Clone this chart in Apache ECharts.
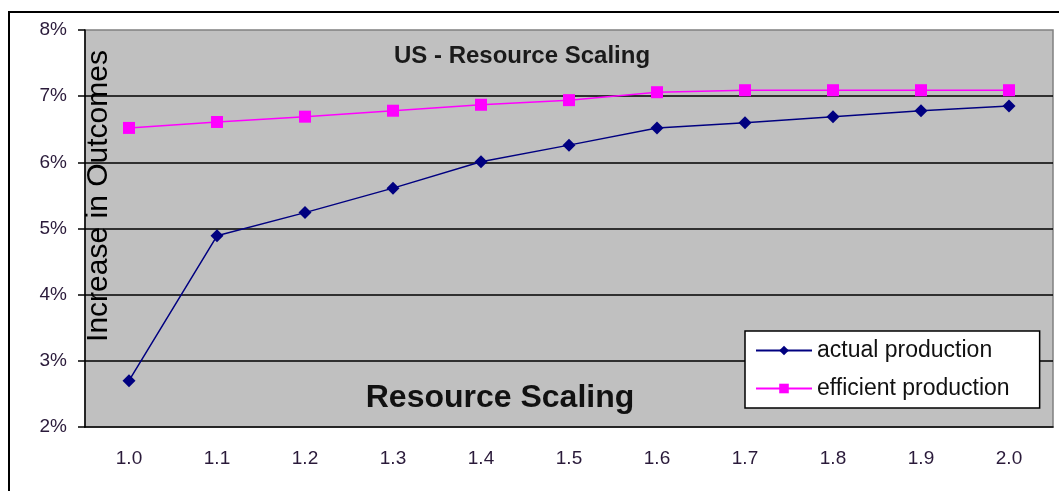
<!DOCTYPE html>
<html>
<head>
<meta charset="utf-8">
<script src="https://cdn.jsdelivr.net/npm/echarts@6/dist/echarts.min.js"></script>
<style>
  html, body { margin: 0; padding: 0; background: #fff; }
  #chart { width: 1059px; height: 491px; }
</style>
</head>
<body>
<div id="chart"></div>
<script>
// data
var scaling = ['1.0', '1.1', '1.2', '1.3', '1.4', '1.5', '1.6', '1.7', '1.8', '1.9', '2.0'];
var actualProduction = [2.70, 4.89, 5.24, 5.61, 6.01, 6.26, 6.52, 6.60, 6.69, 6.78, 6.85];
var efficientProduction = [6.52, 6.61, 6.69, 6.78, 6.87, 6.94, 7.06, 7.09, 7.09, 7.09, 7.09];
var yTicks = { min: 2, max: 8, step: 1 };

var chart = echarts.init(document.getElementById('chart'));
var font = 'Liberation Sans, Arial, sans-serif';

var option = {
    backgroundColor: '#fff',
    animation: false,
    title: [
        {
            text: 'US - Resource Scaling',
            left: 517, top: 39, textAlign: 'center',
            textStyle: { fontFamily: font, fontSize: 24, fontWeight: 'bold', color: '#1a1a1a' }
        },
        {
            text: 'Resource Scaling',
            left: 495, top: 377, textAlign: 'center',
            textStyle: { fontFamily: font, fontSize: 32, fontWeight: 'bold', color: '#111' }
        }
    ],
    graphic: [
        {
            type: 'rect',
            shape: { x: 9, y: 12, width: 1100, height: 600 },
            style: { fill: 'none', stroke: '#000', lineWidth: 2 },
            silent: true
        },
        {
            type: 'text',
            x: 99, y: 196, rotation: Math.PI / 2, z: 10,
            style: {
                text: 'Increase in Outcomes',
                fontFamily: font, fontSize: 30, fill: '#000',
                align: 'center', verticalAlign: 'middle'
            }
        }
    ],
    legend: {
        left: 745, top: 331,
        orient: 'vertical',
        backgroundColor: '#fff',
        borderColor: '#000',
        borderWidth: 1.5,
        padding: [8, 30, 8, 10],
        itemGap: 15,
        itemWidth: 56,
        itemHeight: 12,
        textStyle: { fontFamily: font, fontSize: 23, color: '#111' },
        data: ['actual production', 'efficient production']
    },
    grid: {
        left: 85, right: 6, top: 30, bottom: 64,
        show: true,
        backgroundColor: '#c0c0c0',
        borderColor: '#808080',
        borderWidth: 1.5
    },
    xAxis: {
        type: 'category',
        data: scaling,
        boundaryGap: true,
        axisLine: { lineStyle: { color: '#000', width: 1.5 } },
        axisTick: { length: 6, lineStyle: { color: '#000', width: 1.5 } },
        axisLabel: { fontFamily: font, fontSize: 19, color: '#2a1a3a', margin: 22 },
        splitLine: { show: false }
    },
    yAxis: {
        type: 'value',
        min: yTicks.min, max: yTicks.max, interval: yTicks.step,
        axisLine: { show: true, lineStyle: { color: '#000', width: 1.5 } },
        axisTick: { show: true, length: 7, lineStyle: { color: '#000', width: 1.5 } },
        axisLabel: { fontFamily: font, fontSize: 19, color: '#2a1a3a', margin: 18, formatter: '{value}%' },
        splitLine: { show: true, showMaxLine: false, showMinLine: false, lineStyle: { color: '#000', width: 1.5 } }
    },
    series: [
        {
            name: 'actual production',
            type: 'line',
            data: actualProduction,
            symbol: 'diamond',
            symbolSize: 13,
            color: '#000080',
            lineStyle: { color: '#000080', width: 1.5 },
            itemStyle: { color: '#000080' },
            z: 3
        },
        {
            name: 'efficient production',
            type: 'line',
            data: efficientProduction,
            symbol: 'rect',
            symbolSize: 12,
            color: '#ff00ff',
            lineStyle: { color: '#ff00ff', width: 1.5 },
            itemStyle: { color: '#ff00ff' },
            z: 4
        }
    ]
};
chart.setOption(option);
</script>
</body>
</html>
